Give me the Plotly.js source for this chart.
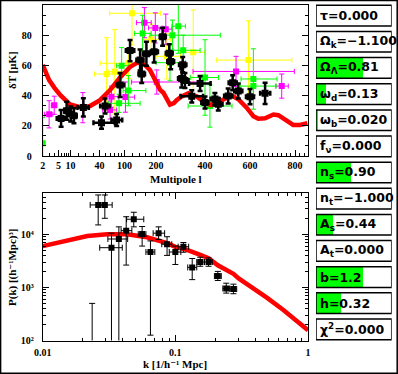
<!DOCTYPE html>
<html><head><meta charset="utf-8">
<script src="https://cdn.plot.ly/plotly-3.0.1.min.js"></script>
<style>html,body{margin:0;padding:0;background:#fff;}#chart{width:398px;height:374px;}</style>
</head><body><div id="chart"></div>
<script>
// ===== CMB panel data (multipole l, dT in microK) =====
const blackL    = [5.8,8.0,10.1,11.8,18.5,43,49,75,85,113,141,146,162,192,227,254,260,305,309,318,346,380,400,444,459,503,523,548,600,667];
const blackLmin = [4.5,7.0,9.0,10.5,14,30,41,62,75,103,130,136,150,178,215,240,246,290,294,303,300,335,385,425,440,485,505,530,582,645];
const blackLmax = [7.3,9.2,11.5,13.5,24,70,58,92,98,124,152,157,175,208,240,268,274,320,324,333,392,425,415,463,478,521,541,566,618,690];
const blackT    = [24.9,30,27.8,26.7,32.2,22.1,33.1,23.8,47,69.8,63.6,54.3,67.7,69,79,68,62.5,51.4,60.5,50,39.5,48,35.4,37.7,34.2,39.7,48.5,43,39.3,41.5];
const blackErr  = [5.5,6,5,5,6,4,5,4,8,7,7,6,8,7,6,6,5,6,5,5,4,5,4,4,4,5,5,5,5,7];

const yellowL    = [52,70,109,118,180,244,352,593];
const yellowLmin = [31.5,55,41,58,150,200,300,452];
const yellowLmax = [105,90,117,218,260,300,400,786];
const yellowT    = [54.3,55.8,61.4,94.5,77.3,66,68.7,63.5];
const yellowErr  = [24,28,10,21,10,15,28,26];

const magentaL    = [2.9,3.9,18,59,62,102,155,197,203,240,538,741];
const magentaLmin = [2.2,3.3,14,45,50,80,130,170,117,215,351,715];
const magentaLmax = [3.6,4.5,23,75,80,125,180,225,380,265,797,770];
const magentaT    = [27.6,33.6,32,30.5,39.3,39,88.3,84.8,49,84,56,46.3];
const magentaErr  = [9,6,10,6,7,10,10,10,8,10,10,8];

const greenL    = [2,82,109,90,149,257,267,291,311,400,422,615,615];
const greenLmin = [2,55,95,75,125,200,175,265,270,340,331,560,556];
const greenLmax = [2,141,160,110,180,320,468,320,380,460,520,720,716];
const greenT    = [8.4,34.9,43.3,59.8,81.2,61.8,80,86,70,52,33.1,51,46.3];
const greenErr  = [17,6,10,12,12,12,10,18,10,25,14,20,6];

// theory curve
const curveL = [2,2.9,4,5.5,9.7,17.4,25.4,40.7,59,85,113,134,157,175,189,216,230,257,273,284,305,318,332,346,366,400,427,459,496,519,548,585,615,637,667,704,726,763,792,822,855];
const curveT = [60.3,50.3,45,40.4,34.2,32,33.1,37,43.7,52,59,62,60.3,57,52.5,44,41.9,34,35,37,39.5,40.8,41.6,40.4,39.5,35.3,33.8,35.8,38.9,40.1,37.6,32,26.4,24.7,25,27.5,27,23.4,20.6,20.6,21.7];

const cmbTickL = [2,5,10,40,100,200,400,600,800];
const cmbTickText = ['2','5','10','40','100','200','400','600','800'];
const cmbMinorL = [3,4,6,7,8,9,15,20,30,50,60,70,80,90,120,140,160,180,220,240,260,280,300,320,340,360,380,420,440,460,480,500,520,540,560,580,620,640,660,680,700,720,740,760,780,820,840];
const dTTicks = [0,20,40,60,80];

// ===== Power spectrum data (k in h/Mpc, P in (Mpc/h)^3) =====
const pkK    = [0.0262,0.0294,0.033,0.0375,0.0426,0.0486,0.0562,0.0649,0.0748,0.0866,0.1,0.115,0.134,0.154,0.178,0.209,0.242,0.274,0.0236];
const pkKmin = [0.0228,0.0275,0.0269,0.031,0.039,0.0429,0.0525,0.060,0.068,0.079,0.09,0.105,0.124,0.145,0.166,0.197,0.228,0.258,0.0236];
const pkKmax = [0.0290,0.0334,0.0398,0.0437,0.047,0.0578,0.060,0.070,0.083,0.094,0.11,0.126,0.145,0.165,0.19,0.222,0.257,0.29,0.0236];
const pkP    = [35700,35700,5590,8150,11700,19200,10100,4640,10500,6500,4640,5840,2380,3000,3000,1630,955,930,40];
const pkPmin = [15000,20000,50,50,2630,13800,6000,126,8000,4000,2700,4600,1400,2500,2500,1350,780,760,40];
const pkPmax = [55000,55000,10500,13800,21400,26000,14000,7500,13800,9000,6000,7000,3500,3700,3600,2000,1200,1150,500];

const theoryK = [0.01,0.0135,0.0175,0.0217,0.0306,0.0433,0.0612,0.0866,0.1,0.1225,0.154,0.178,0.209,0.24,0.274,0.3,0.366,0.489,0.652,0.871,1.0];
const theoryP = [6000,7100,8400,9300,10000,10000,8800,6800,5800,5100,4100,3550,2600,2150,1800,1480,1060,640,375,215,156];

const kTicks = [0.01,0.1,1];
const kTickText = ['0.01','0.1','1'];
const kMinor = [0.02,0.03,0.04,0.05,0.06,0.07,0.08,0.09,0.2,0.3,0.4,0.5,0.6,0.7,0.8,0.9];
const pTicks = [100,1000,10000];
const pTickText = ['10²','10³','10⁴'];
const pMinor = [200,300,400,500,600,700,800,900,2000,3000,4000,5000,6000,7000,8000,9000,20000,30000,40000,50000,60000];

// ===== Parameter sliders =====
const paramLabels = ['τ=0.000','Ω<sub>k</sub>=−1.100','Ω<sub>Λ</sub>=0.81','ω<sub>d</sub>=0.13','ω<sub>b</sub>=0.020','f<sub>ν</sub>=0.000','n<sub>s</sub>=0.90','n<sub>t</sub>=−1.000','A<sub>s</sub>=0.44','A<sub>t</sub>=0.000','b=1.2','h=0.32','χ<sup>2</sup>=0.000'];
const paramFill = [0,0,0.617,0.132,0.02,0,0.458,0,0.22,0,0.617,0.326,0];

// ===== multipole axis scale (log at low l, linear at high l) =====
const scaleL  = [2,10,40,100,200,400,600,800,1000];
const scalePx = [42.7,70.5,99.5,124.5,156,205,250,295,340];
function fx(l){
  for(let i=0;i<scaleL.length-1;i++){
    if(l<=scaleL[i+1] || i===scaleL.length-2){
      const a=scaleL[i], b=scaleL[i+1];
      const t = (b<=200) ? (Math.log(l)-Math.log(a))/(Math.log(b)-Math.log(a)) : (l-a)/(b-a);
      return scalePx[i]+t*(scalePx[i+1]-scalePx[i]);
    }
  }
}

function cmbTrace(L,Lmin,Lmax,T,E,color,size,thick){
  const X=L.map(fx);
  return {type:'scatter',mode:'markers',x:X,y:T,xaxis:'x',yaxis:'y',
    marker:{symbol:'square',size:size,color:color},
    error_y:{type:'data',array:E,color:color,thickness:thick,width:2.5},
    error_x:{type:'data',symmetric:false,array:Lmax.map((v,i)=>fx(v)-X[i]),arrayminus:Lmin.map((v,i)=>X[i]-fx(v)),color:color,thickness:thick,width:2.5},
    hoverinfo:'skip',showlegend:false};
}

const traces = [
  cmbTrace(yellowL,yellowLmin,yellowLmax,yellowT,yellowErr,'#ffff00',6,1),
  cmbTrace(magentaL,magentaLmin,magentaLmax,magentaT,magentaErr,'#ff00ff',6,1),
  cmbTrace(greenL,greenLmin,greenLmax,greenT,greenErr,'#00ff00',6,1),
  {type:'scatter',mode:'lines',x:curveL.map(fx),y:curveT,xaxis:'x',yaxis:'y',line:{color:'#ff0000',width:4.5},hoverinfo:'skip',showlegend:false},
  cmbTrace(blackL,blackLmin,blackLmax,blackT,blackErr,'#000000',7,2.5),
  {type:'scatter',mode:'lines',x:theoryK,y:theoryP,xaxis:'x2',yaxis:'y2',line:{color:'#ff0000',width:4.5},hoverinfo:'skip',showlegend:false},
  {type:'scatter',mode:'markers',x:pkK,y:pkP,xaxis:'x2',yaxis:'y2',marker:{symbol:'square',size:6,color:'#000'},
    error_y:{type:'data',symmetric:false,array:pkPmax.map((v,i)=>v-pkP[i]),arrayminus:pkPmin.map((v,i)=>pkP[i]-v),color:'#000',thickness:1,width:3},
    error_x:{type:'data',symmetric:false,array:pkKmax.map((v,i)=>v-pkK[i]),arrayminus:pkKmin.map((v,i)=>pkK[i]-v),color:'#000',thickness:1,width:3},
    hoverinfo:'skip',showlegend:false},
  {type:'bar',orientation:'h',x:paramFill,y:paramLabels.map((s,i)=>i),xaxis:'x3',yaxis:'y3',width:0.79,marker:{color:'#00ff00',line:{width:0}},hoverinfo:'skip',showlegend:false}
];

const tickFont = {family:'Liberation Serif, DejaVu Serif, serif',size:10,color:'#000',weight:700};
const axBase = {showline:true,linecolor:'#000',linewidth:1,mirror:'ticks',ticks:'inside',ticklen:6,tickcolor:'#000',tickwidth:1,showgrid:false,zeroline:false,tickfont:tickFont,fixedrange:true};

const shapes = [{type:'rect',xref:'paper',yref:'paper',x0:0.6/398,x1:397.2/398,y0:0.8/374,y1:373.4/374,line:{color:'#000',width:1.5}}];
const annotations = [];
paramLabels.forEach((s,i)=>{
  shapes.push({type:'rect',xref:'x3',yref:'y3',x0:0,x1:1,y0:i-0.395,y1:i+0.395,line:{color:'#000',width:1.5},layer:'above'});
  annotations.push({xref:'x3',yref:'y3',x:0.03,y:i,text:s,showarrow:false,xanchor:'left',yanchor:'middle',
    font:{family:'DejaVu Sans, sans-serif',size:12.5,color:'#000',weight:700}});
});
const titleFont = {family:'Liberation Serif, DejaVu Serif, serif',size:11,color:'#000',weight:700};
annotations.push({xref:'paper',yref:'paper',x:176/398,y:1-179/374,xanchor:'center',yanchor:'middle',text:'Multipole l',showarrow:false,font:titleFont});
annotations.push({xref:'paper',yref:'paper',x:12/398,y:1-70/374,xanchor:'center',yanchor:'middle',text:'δT [μK]',textangle:-90,showarrow:false,font:titleFont});
annotations.push({xref:'paper',yref:'paper',x:175/398,y:1-364/374,xanchor:'center',yanchor:'middle',text:'k [1/h⁻¹ Mpc]',showarrow:false,font:titleFont});
annotations.push({xref:'paper',yref:'paper',x:12/398,y:1-268/374,xanchor:'center',yanchor:'middle',text:'P(k) [(h⁻¹Mpc)³]',textangle:-90,showarrow:false,font:titleFont});

const layout = {
  width:398,height:374,margin:{l:0,r:0,t:0,b:0},paper_bgcolor:'#fff',plot_bgcolor:'#fff',showlegend:false,
  xaxis:Object.assign({},axBase,{domain:[42.7/398,308/398],range:[42.7,308],anchor:'y',mirror:true,
    tickmode:'array',tickvals:cmbTickL.map(fx),ticktext:cmbTickText,ticklabelstandoff:0,
    minor:{tickmode:'array',tickvals:cmbMinorL.map(fx),ticks:'inside',ticklen:3,tickcolor:'#000'}}),
  yaxis:Object.assign({},axBase,{domain:[1-156/374,1-5/374],range:[0,100],anchor:'x',
    tickmode:'array',tickvals:dTTicks,ticklabelstandoff:8,
    minor:{dtick:20/3,tick0:0,ticks:'inside',ticklen:3,tickcolor:'#000'}}),
  xaxis2:Object.assign({},axBase,{type:'log',domain:[42.7/398,308/398],range:[-2,0],anchor:'y2',
    tickmode:'array',tickvals:kTicks,ticktext:kTickText,ticklabelstandoff:2,
    minor:{tickmode:'array',tickvals:kMinor,ticks:'inside',ticklen:3,tickcolor:'#000'}}),
  yaxis2:Object.assign({},axBase,{type:'log',domain:[1-340.5/374,1-192.7/374],range:[2,4.783],anchor:'x2',
    tickmode:'array',tickvals:pTicks,ticktext:pTickText,ticklabelstandoff:6,
    minor:{tickmode:'array',tickvals:pMinor,ticks:'inside',ticklen:3,tickcolor:'#000'}}),
  xaxis3:{domain:[316/398,391.7/398],range:[0,1],anchor:'y3',visible:false,fixedrange:true},
  yaxis3:{domain:[1-342.4/374,1-2.58/374],range:[12.5,-0.5],anchor:'x3',visible:false,fixedrange:true},
  shapes:shapes,annotations:annotations,bargap:0
};
Plotly.newPlot('chart',traces,layout,{staticPlot:true,displayModeBar:false});
</script></body></html>
